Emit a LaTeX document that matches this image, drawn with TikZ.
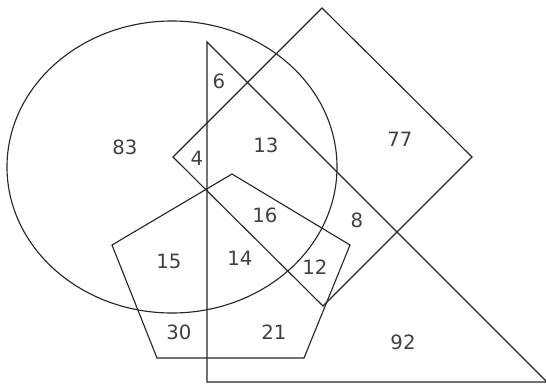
\documentclass[tikz,border=0pt]{standalone}
\usepackage{fontspec}
\setmainfont{DejaVu Sans}
\usetikzlibrary{calc}

\begin{document}
\begin{tikzpicture}[
    x=0.025cm, y=-0.025cm,
    every node/.style={align=center, inner sep=0pt, font=\fontsize{14}{16}\selectfont},
    set-line/.style={draw=black!85, line width=0.8pt},
    set-count/.style={text=black!75},
]
    \useasboundingbox (0,0) rectangle (546,383);

    % ---- SHAPES: corner points ----
    \coordinate (tri-top)   at (207,42);
    \coordinate (tri-left)  at (207,382);
    \coordinate (tri-right) at (547,382);

    \coordinate (sq-n) at (322,8);
    \coordinate (sq-e) at (472,157);
    \coordinate (sq-s) at (323,306);
    \coordinate (sq-w) at (173,157);

    \coordinate (pent-top) at (232,174);
    \coordinate (pent-r)   at (350,245);
    \coordinate (pent-br)  at (304,358);
    \coordinate (pent-bl)  at (157,358);
    \coordinate (pent-l)   at (112,245);

    % ---- SHAPES ----
    \draw[set-line] (172,167) ellipse [x radius=165, y radius=146];
    \draw[set-line] (tri-top) -- (tri-left) -- (tri-right) -- cycle;
    \draw[set-line] (sq-n) -- (sq-e) -- (sq-s) -- (sq-w) -- cycle;
    \draw[set-line] (pent-top) -- (pent-r) -- (pent-br) -- (pent-bl) -- (pent-l) -- cycle;

    % ---- REGION COUNTS ----
    \node[set-count] (c83) at (125,147) {83};
    \node[set-count] (c6)  at (219,81)  {6};
    \node[set-count] (c4)  at (197,158) {4};
    \node[set-count] (c13) at (266,145) {13};
    \node[set-count] (c77) at (400,139) {77};
    \node[set-count] (c16) at (265,215) {16};
    \node[set-count] (c8)  at (357,220) {8};
    \node[set-count] (c15) at (169,261) {15};
    \node[set-count] (c14) at (240,258) {14};
    \node[set-count] (c12) at (315,267) {12};
    \node[set-count] (c30) at (179,332) {30};
    \node[set-count] (c21) at (274,332) {21};
    \node[set-count] (c92) at (403,342) {92};

\end{tikzpicture}
\end{document}
